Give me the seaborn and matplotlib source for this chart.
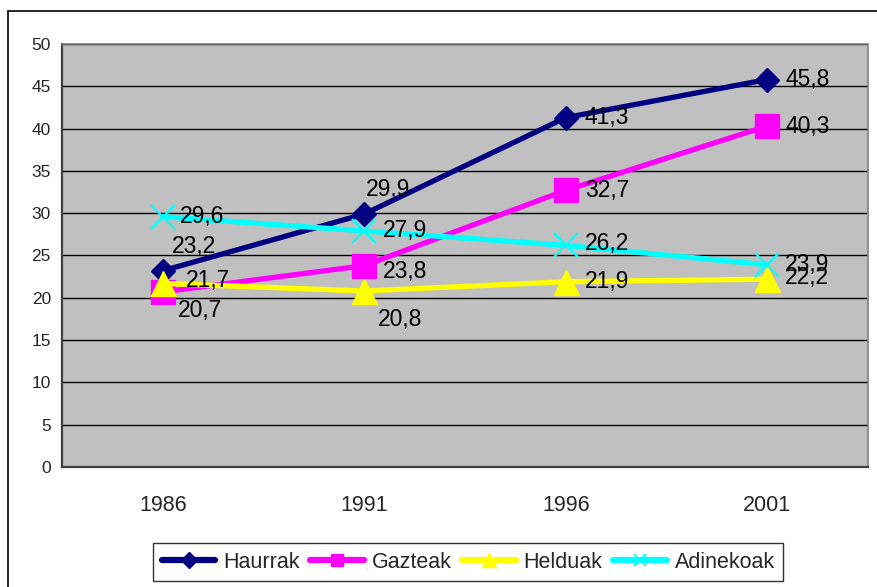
import matplotlib
matplotlib.use("Agg")
import matplotlib.pyplot as plt
import seaborn as sns
import pandas as pd
from matplotlib.patches import Rectangle
from matplotlib.lines import Line2D

years = ["1986", "1991", "1996", "2001"]
haurrak = [23.2, 29.9, 41.3, 45.8]
gazteak = [20.7, 23.8, 32.7, 40.3]
helduak = [21.7, 20.8, 21.9, 22.2]
adinekoak = [29.6, 27.9, 26.2, 23.9]
series_names = ["Haurrak", "Gazteak", "Helduak", "Adinekoak"]
series_values = [haurrak, gazteak, helduak, adinekoak]

colors = ["#000080", "#FF00FF", "#FFFF00", "#00FFFF"]
markers = ["D", "s", "^", "x"]
msizes = [12, 17, 18, 17]
mews = [1, 1, 1, 1.6]

# label offsets in pixels (dx right, dy down)
offsets = [
    [(9, -24), (2, -25), (19, 0), (18, 0)],
    [(15, 19), (19, 6), (19, 0), (18, 0)],
    [(23, -3), (14, 28), (19, 0), (18, -2)],
    [(17, 0), (19, 0), (19, -2), (18, 0)],
]

sns.set_style("white")
plt.rcParams["font.family"] = ["Liberation Sans", "DejaVu Sans"]

fig = plt.figure(figsize=(8.77, 5.87), dpi=100)
W, H = 877, 587
ax = fig.add_axes([62 / W, 1 - 467 / H, (868 - 62) / W, (467 - 44) / H])
ax.set_facecolor("#C0C0C0")

x = list(range(len(years)))
for name, vals, c, m, ms, mew in zip(series_names, series_values, colors, markers, msizes, mews):
    df = pd.DataFrame({"x": x, "y": vals})
    sns.lineplot(data=df, x="x", y="y", ax=ax, color=c, linewidth=3.8,
                 marker=m, markersize=ms, markeredgecolor=c, markerfacecolor=c,
                 markeredgewidth=mew, label=name, zorder=3)

for vals, offs in zip(series_values, offsets):
    for xi, v, (dx, dy) in zip(x, vals, offs):
        ax.annotate(f"{v:.1f}".replace(".", ","), (xi, v),
                    xytext=(dx * 0.72, -dy * 0.72), textcoords="offset points",
                    ha="left", va="center", fontsize=16.5, color="black", zorder=5)

ax.set_xlim(-0.5, 3.5)
ax.set_ylim(0, 50)
ax.set_yticks(range(0, 51, 5))
ax.set_xticks(x)
ax.set_xticklabels(years, fontsize=15.5)
ax.set_xticks([-0.5, 0.5, 1.5, 2.5, 3.5], minor=True)
ax.tick_params(axis="x", which="major", length=0, pad=20)
ax.tick_params(axis="x", which="minor", length=5, width=1.2, color="#404040", direction="out")
ax.tick_params(axis="y", length=5, width=1.0, color="#404040", direction="out", labelsize=12.5, pad=3)
ax.grid(axis="y", color="black", linewidth=1.0)
ax.grid(axis="x", visible=False)
ax.set_axisbelow(True)
ax.set_xlabel("")
ax.set_ylabel("")
for s in ["top", "right"]:
    ax.spines[s].set_color("#808080")
    ax.spines[s].set_linewidth(1.2)
for s in ["left", "bottom"]:
    ax.spines[s].set_color("#404040")
    ax.spines[s].set_linewidth(1.6)

ax.legend_.remove()
leg_handles = [Line2D([], [], color=c, linewidth=4.5, marker=m, markersize=ls,
                      markeredgecolor=c, markerfacecolor=c, markeredgewidth=mw)
               for c, m, ls, mw in zip(colors, markers, [8, 9, 10, 9], [1, 1, 1, 1.4])]
leg = fig.legend(leg_handles, series_names, loc="upper left",
                 bbox_to_anchor=(153 / W, 1 - 543 / H), ncol=4, fontsize=15.5,
                 frameon=True, fancybox=False, edgecolor="black",
                 handlelength=2.5, handletextpad=0.35, columnspacing=0.5,
                 borderpad=0.4, borderaxespad=0)
leg.get_frame().set_linewidth(1.0)

fig.patches.append(Rectangle((8 / W, -0.1), 1.2, 1 - 11 / H + 0.1, transform=fig.transFigure,
                             fill=False, edgecolor="black", linewidth=1.2))

fig.savefig("out.png", dpi=100)
